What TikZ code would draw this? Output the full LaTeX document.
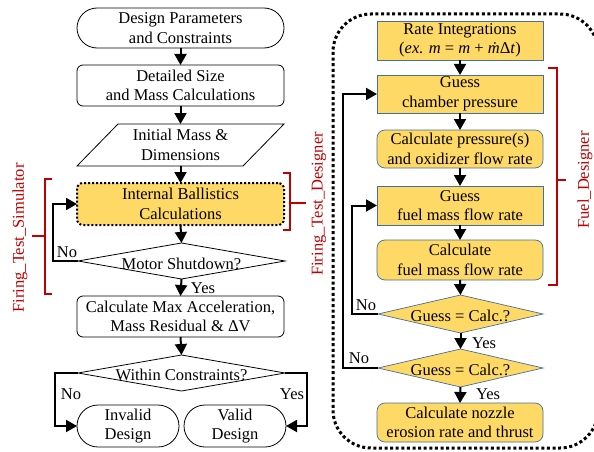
\documentclass[tikz,border=0pt]{standalone}
\usepackage{fontspec}
\setmainfont{Liberation Serif}
\usetikzlibrary{shapes.geometric,arrows.meta,calc}
\definecolor{yel}{HTML}{FFD966}
\definecolor{bblue}{HTML}{41719C}
\definecolor{brred}{HTML}{C00000}
\begin{document}
\begin{tikzpicture}[x=1pt,y=-1pt,
  every node/.style={font=\fontsize{16.5}{19.5}\selectfont, inner sep=0pt, outer sep=0pt},
  wbox/.style={draw, line width=0.8pt, fill=white, align=center, minimum width=207pt, minimum height=41pt, rounded corners=6pt},
  ybox/.style={draw=bblue, line width=0.7pt, fill=yel, align=center, minimum width=166pt, minimum height=39pt},
  dia/.style={diamond, draw, line width=0.8pt, minimum width=207pt, minimum height=36pt},
  ydia/.style={diamond, draw=bblue, line width=0.7pt, fill=yel, minimum width=165pt, minimum height=38pt},
  arr/.style={-{Triangle[length=11pt,width=12pt]}, line width=2pt},
  brk/.style={draw=brred, line width=1.3pt},
  brlab/.style={text=brred, rotate=90},
  lab/.style={}
]
\clip (0,0) rectangle (594,452);
\fill[white] (0,0) rectangle (594,452);

% ---------- left column ----------
\node[wbox, rounded corners=20pt, minimum height=40pt] (start) at (180.5,28) {Design Parameters\\and Constraints};
\node[wbox] (det) at (180.5,85.5) {Detailed Size\\and Mass Calculations};
\node[align=center, minimum width=207pt, minimum height=42pt] (para) at (180.5,145) {};
\draw[line width=0.8pt] (77,166) -- (118,124) -- (284,124) -- (243,166) -- cycle;
\node[align=center] (parat) at (180.5,145) {Initial Mass \&\\Dimensions};
\node[wbox, fill=yel, dash pattern=on 2pt off 2pt, line width=2pt, minimum height=42pt] (ib) at (180.5,204) {Internal Ballistics\\Calculations};
\node[dia] (ms) at (181.5,261) {};
\node (mst) at (181.5,264) {Motor Shutdown?};
\node[wbox] (calc) at (180.5,316.5) {Calculate Max Acceleration,\\Mass Residual \& ΔV};
\node[dia] (wc) at (181.5,373) {};
\node (wct) at (181.5,375) {Within Constraints?};
\node[wbox, rounded corners=21pt, minimum width=102pt, minimum height=42pt] (inv) at (128,426) {Invalid\\Design};
\node[wbox, rounded corners=21pt, minimum width=102pt, minimum height=42pt] (val) at (235,426) {Valid\\Design};

\draw[arr] (start.south) -- (det.north);
\draw[arr] (det.south) -- (para.north);
\draw[arr] (para.south) -- (ib.north);
\draw[arr] (ib.south) -- (ms.north);
\draw[arr] (ms.south) -- (calc.north);
\draw[arr] (calc.south) -- (wc.north);
\draw[arr] (ms.west) -- ++(-25,0) |- (ib.west);
\draw[arr] (wc.west) -- ++(-23,0) |- (inv.west);
\draw[arr] (wc.east) -- ++(22,0) |- (val.east);
\node[lab] (no1) at (67,252) {No};
\node[lab] (yes1) at (203,288) {Yes};
\node[lab] (no2) at (71,394) {No};
\node[lab] (yes2) at (292,394) {Yes};

% ---------- right column ----------
\draw[line width=3pt, dash pattern=on 3pt off 2.6pt, rounded corners=38pt] (333,14) rectangle (598,448);
\node[ybox] (ri) at (460,40.5) {Rate Integrations\\(\textit{ex. m} = \textit{m} + \textit{\.{m}}Δ\textit{t})};
\node[ybox, minimum height=38pt] (gcp) at (460,94) {Guess\\chamber pressure};
\node[ybox, minimum height=38pt, rounded corners=8pt] (cp) at (460,149) {Calculate pressure(s)\\and oxidizer flow rate};
\node[ybox] (gf) at (460,205.5) {Guess\\fuel mass flow rate};
\node[ybox, minimum height=40pt, rounded corners=8pt] (cf) at (460,260) {Calculate\\fuel mass flow rate};
\node[ydia] (d1) at (460.5,314) {};
\node (d1t) at (460.5,316) {Guess = Calc.?};
\node[ydia] (d2) at (460.5,368) {};
\node (d2t) at (460.5,370) {Guess = Calc.?};
\node[ybox, rounded corners=8pt] (cn) at (460,422.5) {Calculate nozzle\\erosion rate and thrust};

\draw[arr] (ri.south) -- (gcp.north);
\draw[arr] (gcp.south) -- (cp.north);
\draw[arr] (cp.south) -- (gf.north);
\draw[arr] (gf.south) -- (cf.north);
\draw[arr] (cf.south) -- (d1.north);
\draw[arr] (d1.south) -- (d2.north);
\draw[arr] (d2.south) -- (cn.north);
\draw[arr] (d1.west) -- ++(-26,0) |- (gf.west);
\draw[arr] (d2.west) -- ++(-35,0) |- (gcp.west);
\node[lab] (no3) at (366,305) {No};
\node[lab] (no4) at (359,358) {No};
\node[lab] (yes3) at (484,343) {Yes};
\node[lab] (yes4) at (488,394) {Yes};

% ---------- brackets ----------
\draw[brk] (52,179) -- (45,179) -- (45,294) -- (52,294);
\draw[brk] (45,236) -- (32,236);
\node[brlab] (lsim) at (20,238) {Firing\_Test\_Simulator};
\draw[brk] (283,173) -- (290,173) -- (290,230) -- (283,230);
\draw[brk] (290,203) -- (306,203);
\node[brlab] (ldes) at (319,204) {Firing\_Test\_Designer};
\draw[brk] (548,68) -- (557,68) -- (557,285) -- (548,285);
\draw[brk] (557,180) -- (566,180);
\node[brlab] (lfuel) at (585,180) {Fuel\_Designer};
\end{tikzpicture}
\end{document}
